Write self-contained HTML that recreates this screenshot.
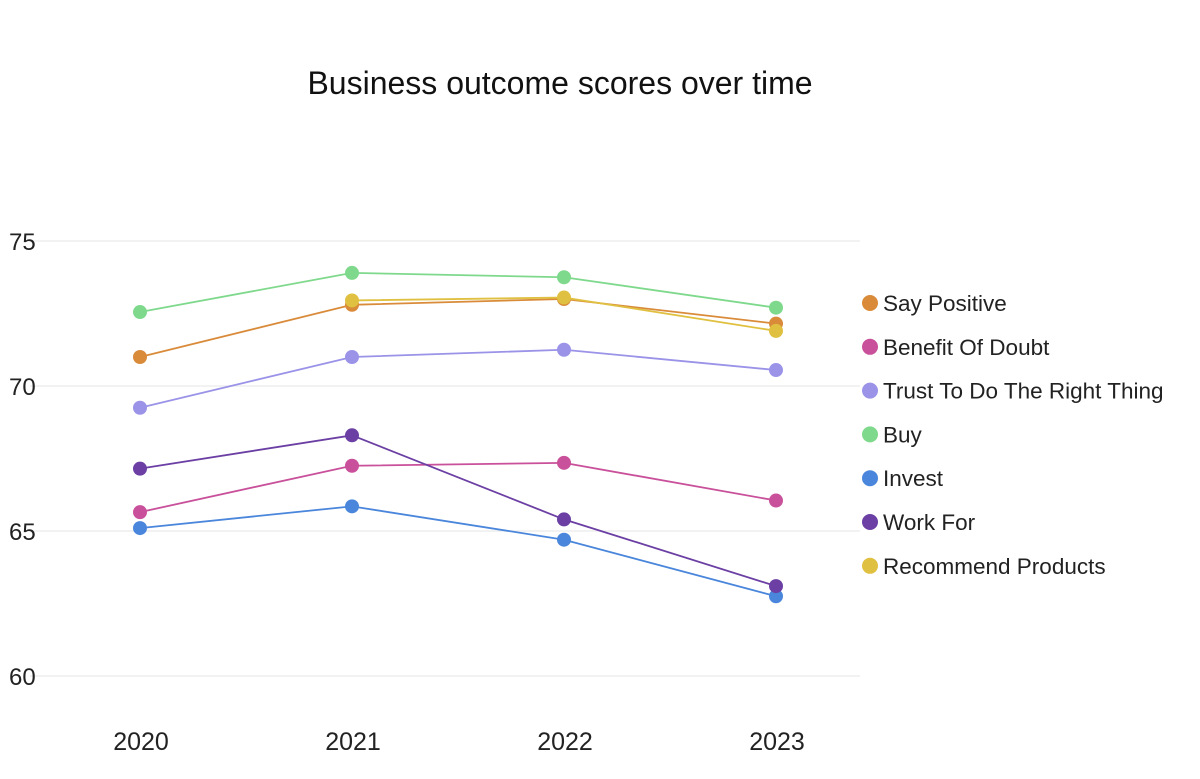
<!DOCTYPE html>
<html><head><meta charset="utf-8"><style>
body{margin:0;background:#fff;width:1200px;height:774px;overflow:hidden;font-family:"Liberation Sans",sans-serif}
</style></head><body>
<svg id="chart" width="1200" height="774" xmlns="http://www.w3.org/2000/svg">
<text x="560" y="94" text-anchor="middle" font-size="32" fill="#111">Business outcome scores over time</text>
<g id="grid"></g><g id="lines"></g><g id="legend"></g>
</svg>
<script>
const years = ["2020","2021","2022","2023"];
const yTicks = [60,65,70,75];
const seriesNames = ["Say Positive","Benefit Of Doubt","Trust To Do The Right Thing","Buy","Invest","Work For","Recommend Products"];
const sayPositive = [71.0,72.8,73.0,72.15];
const benefitOfDoubt = [65.65,67.25,67.35,66.05];
const trust = [69.25,71.0,71.25,70.55];
const buy = [72.55,73.9,73.75,72.7];
const invest = [65.1,65.85,64.7,62.75];
const workFor = [67.15,68.3,65.4,63.1];
const recommend = [null,72.95,73.05,71.9];
const colors = ["#d98b3a","#c9509a","#9a93e8","#7fd98c","#4a86db","#6b3fa3","#e0c040"];
const allSeries = [sayPositive,benefitOfDoubt,trust,buy,invest,workFor,recommend];
const NS="http://www.w3.org/2000/svg";
const x = i => 140 + i*212;
const y = v => 241 + (75-v)*29;
function mk(tag,attrs,parent){const e=document.createElementNS(NS,tag);for(const k in attrs)e.setAttribute(k,attrs[k]);parent.appendChild(e);return e;}
const grid=document.getElementById('grid');
yTicks.forEach(t=>{
  const l=mk('line',{x1:30,x2:860,y1:y(t),y2:y(t),stroke:'#eeeeee','stroke-width':1.5},grid);
  
  
  const tx=mk('text',{x:9,y:y(t)+9,'font-size':24,fill:'#222'},grid);tx.textContent=t;
  
  
});
years.forEach((yr,i)=>{
  const tx=mk('text',{x:x(i)+1,y:750,'font-size':25,fill:'#222','text-anchor':'middle'},grid);tx.textContent=yr;
  
  
});
const lines=document.getElementById('lines');
allSeries.forEach((s,si)=>{
  const g=mk('g',{},lines);
  
  
  const pts=[];s.forEach((v,i)=>{if(v!==null)pts.push(x(i)+','+y(v));});
  mk('polyline',{points:pts.join(' '),fill:'none',stroke:colors[si],'stroke-width':1.8},g);
  s.forEach((v,i)=>{if(v===null)return;
    const c=mk('circle',{cx:x(i),cy:y(v),r:7,fill:colors[si]},g);
    
    
  });
});
const leg=document.getElementById('legend');
seriesNames.forEach((n,i)=>{
  const g=mk('g',{},leg);
  
  
  const cy=303+i*43.8;
  mk('circle',{cx:870,cy:cy,r:8,fill:colors[i]},g);
  const t=mk('text',{x:883,y:cy+8,'font-size':22.5,fill:'#222'},g);t.textContent=n;
});
</script>
</body></html>
